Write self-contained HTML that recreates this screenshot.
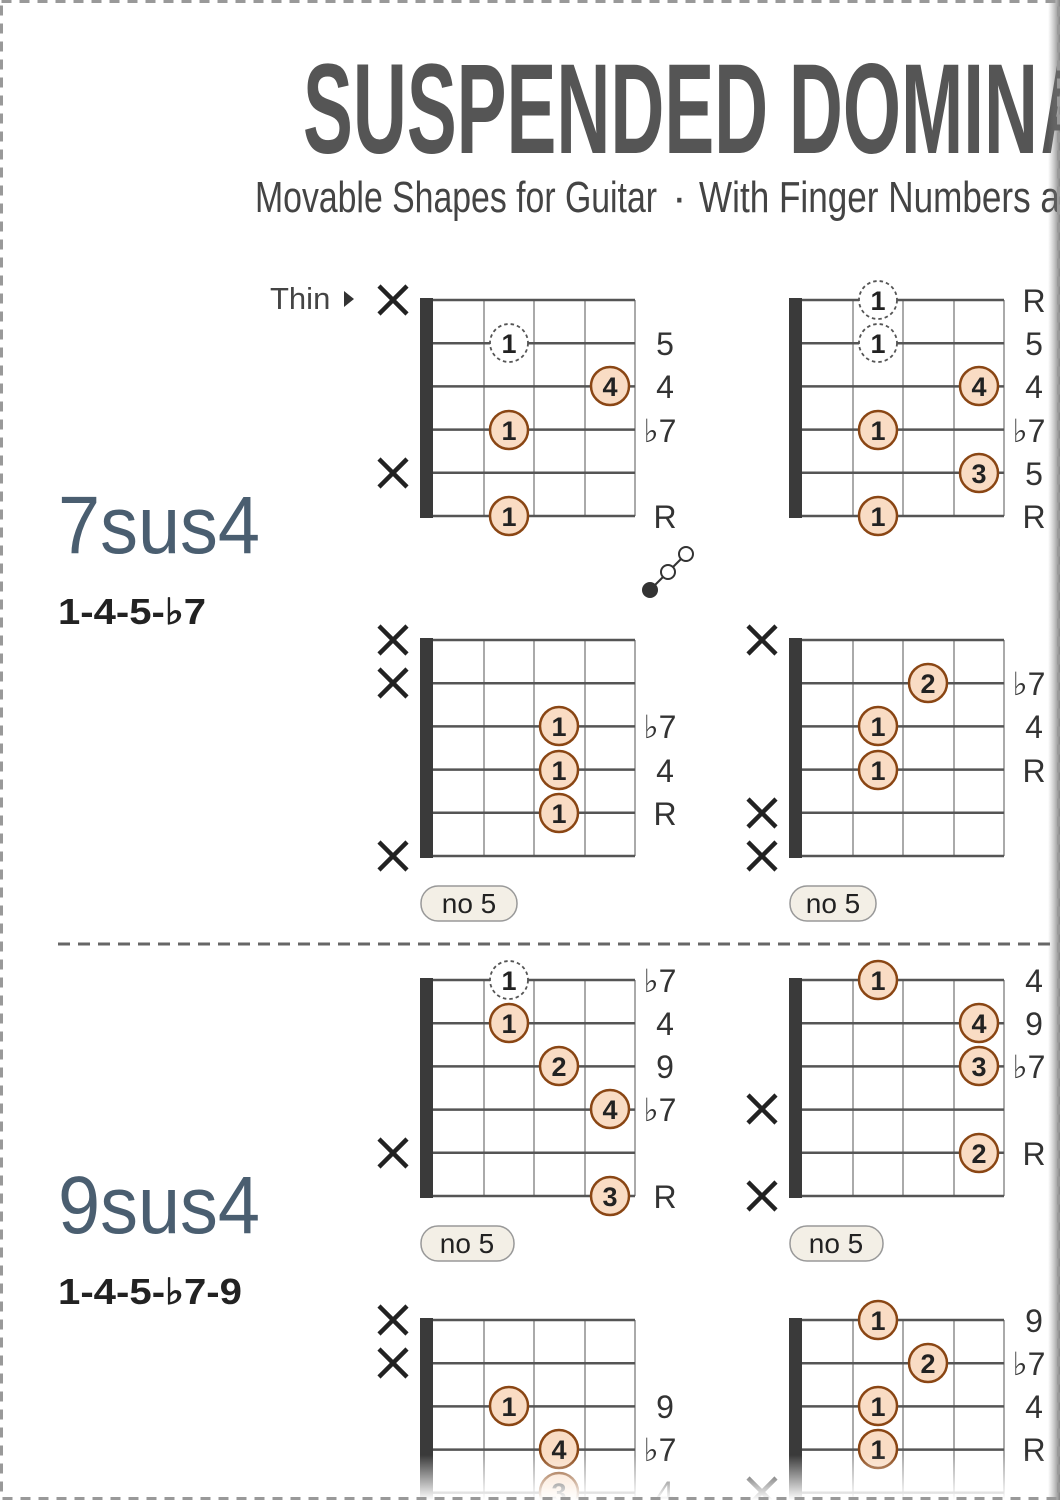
<!DOCTYPE html>
<html><head><meta charset="utf-8"><style>
html,body{margin:0;padding:0;background:#fff}
svg{display:block}
text{font-family:"Liberation Sans",sans-serif}
.lb{font-size:32px;fill:#333;text-anchor:middle}
.fn{font-size:27px;font-weight:bold;fill:#222;text-anchor:middle}
.x{stroke:#222;stroke-width:4.5;stroke-linecap:butt}
.dot{fill:#f9dcc4;stroke:#8a4614;stroke-width:2.5}
.dd{fill:#fff;stroke:#555;stroke-width:1.8;stroke-dasharray:3.5,3}
.str{stroke:#555;stroke-width:2.5}
.fr{stroke:#aaa;stroke-width:2}
</style></head><body>
<svg width="1060" height="1500" viewBox="0 0 1060 1500" xmlns="http://www.w3.org/2000/svg">
<defs>
<symbol id="grid" overflow="visible">
<rect x="0" y="-2" width="13" height="220" fill="#3a3a3a"/>
<line class="fr" x1="64" y1="0" x2="64" y2="216"/>
<line class="fr" x1="114" y1="0" x2="114" y2="216"/>
<line class="fr" x1="165" y1="0" x2="165" y2="216"/>
<line class="fr" x1="215" y1="0" x2="215" y2="216"/>
<line class="str" x1="13" y1="0" x2="215" y2="0"/>
<line class="str" x1="13" y1="43.2" x2="215" y2="43.2"/>
<line class="str" x1="13" y1="86.4" x2="215" y2="86.4"/>
<line class="str" x1="13" y1="129.6" x2="215" y2="129.6"/>
<line class="str" x1="13" y1="172.8" x2="215" y2="172.8"/>
<line class="str" x1="13" y1="216" x2="215" y2="216"/>
</symbol>
<symbol id="X" overflow="visible"><path class="x" d="M-14,-14L14,14M14,-14L-14,14"/></symbol>
<linearGradient id="fade" x1="0" y1="0" x2="0" y2="1"><stop offset="0" stop-color="#fff" stop-opacity="0"/><stop offset="1" stop-color="#fff" stop-opacity="1"/></linearGradient>
<linearGradient id="rs" x1="0" y1="0" x2="1" y2="0"><stop offset="0" stop-color="#888" stop-opacity="0"/><stop offset="1" stop-color="#666" stop-opacity="0.8"/></linearGradient>
</defs>

<!-- title -->
<text x="303" y="153" font-size="128" font-weight="bold" fill="#555" textLength="735" lengthAdjust="spacingAndGlyphs">SUSPENDED DOMIN</text>
<text x="1041" y="153" font-size="128" font-weight="bold" fill="#555" textLength="120" lengthAdjust="spacingAndGlyphs">ANT</text>
<text x="255" y="212" font-size="44" fill="#444" textLength="402" lengthAdjust="spacingAndGlyphs">Movable Shapes for Guitar</text>
<text x="672" y="212" font-size="44" fill="#444">·</text>
<text x="699" y="212" font-size="44" fill="#444" textLength="400" lengthAdjust="spacingAndGlyphs">With Finger Numbers and</text>

<text x="270" y="309" font-size="31" fill="#444">Thin</text>
<path d="M344,291L354,299L344,307Z" fill="#333"/>

<text x="58" y="553" font-size="82" fill="#4a5e70" textLength="202" lengthAdjust="spacingAndGlyphs">7sus4</text>
<text x="58" y="624" font-size="36" fill="#222" font-weight="bold" textLength="148" lengthAdjust="spacingAndGlyphs">1-4-5-♭7</text>
<text x="58" y="1233" font-size="82" fill="#4a5e70" textLength="202" lengthAdjust="spacingAndGlyphs">9sus4</text>
<text x="58" y="1304" font-size="36" fill="#222" font-weight="bold" textLength="184" lengthAdjust="spacingAndGlyphs">1-4-5-♭7-9</text>

<line x1="58" y1="944" x2="1060" y2="944" stroke="#666" stroke-width="3" stroke-dasharray="12,8"/>

<!-- link icon -->
<line x1="650" y1="590" x2="686" y2="554" stroke="#333" stroke-width="2"/>
<circle cx="650" cy="590" r="8" fill="#333"/>
<circle cx="668" cy="572" r="7" fill="#fff" stroke="#333" stroke-width="2"/>
<circle cx="686" cy="554" r="7" fill="#fff" stroke="#333" stroke-width="2"/>

<!-- Chord 1 -->
<use href="#grid" x="420" y="300"/>
<use href="#X" x="393" y="300"/><use href="#X" x="393" y="473"/>
<circle class="dd" cx="509" cy="343" r="19"/><text class="fn" x="509" y="353">1</text>
<circle class="dot" cx="610" cy="386" r="19"/><text class="fn" x="610" y="396">4</text>
<circle class="dot" cx="509" cy="430" r="19"/><text class="fn" x="509" y="440">1</text>
<circle class="dot" cx="509" cy="516" r="19"/><text class="fn" x="509" y="526">1</text>
<text class="lb" x="665" y="355">5</text><text class="lb" x="665" y="398">4</text><text class="lb" x="660" y="442">♭7</text><text class="lb" x="665" y="528">R</text>

<!-- Chord 2 -->
<use href="#grid" x="789" y="300"/>
<circle class="dd" cx="878" cy="300" r="19"/><text class="fn" x="878" y="310">1</text>
<circle class="dd" cx="878" cy="343" r="19"/><text class="fn" x="878" y="353">1</text>
<circle class="dot" cx="979" cy="386" r="19"/><text class="fn" x="979" y="396">4</text>
<circle class="dot" cx="878" cy="430" r="19"/><text class="fn" x="878" y="440">1</text>
<circle class="dot" cx="979" cy="473" r="19"/><text class="fn" x="979" y="483">3</text>
<circle class="dot" cx="878" cy="516" r="19"/><text class="fn" x="878" y="526">1</text>
<text class="lb" x="1034" y="312">R</text><text class="lb" x="1034" y="355">5</text><text class="lb" x="1034" y="398">4</text><text class="lb" x="1029" y="442">♭7</text><text class="lb" x="1034" y="485">5</text><text class="lb" x="1034" y="528">R</text>

<!-- Chord 3 -->
<use href="#grid" x="420" y="640"/>
<use href="#X" x="393" y="640"/><use href="#X" x="393" y="683"/><use href="#X" x="393" y="856"/>
<circle class="dot" cx="559" cy="726" r="19"/><text class="fn" x="559" y="736">1</text>
<circle class="dot" cx="559" cy="770" r="19"/><text class="fn" x="559" y="780">1</text>
<circle class="dot" cx="559" cy="813" r="19"/><text class="fn" x="559" y="823">1</text>
<text class="lb" x="660" y="738">♭7</text><text class="lb" x="665" y="782">4</text><text class="lb" x="665" y="825">R</text>
<rect x="421" y="886" width="96" height="35" rx="17" fill="#f3efe6" stroke="#999" stroke-width="1.5"/><text x="469" y="913" font-size="28" fill="#222" text-anchor="middle">no 5</text>

<!-- Chord 4 -->
<use href="#grid" x="789" y="640"/>
<use href="#X" x="762" y="640"/><use href="#X" x="762" y="813"/><use href="#X" x="762" y="856"/>
<circle class="dot" cx="928" cy="683" r="19"/><text class="fn" x="928" y="693">2</text>
<circle class="dot" cx="878" cy="726" r="19"/><text class="fn" x="878" y="736">1</text>
<circle class="dot" cx="878" cy="770" r="19"/><text class="fn" x="878" y="780">1</text>
<text class="lb" x="1029" y="695">♭7</text><text class="lb" x="1034" y="738">4</text><text class="lb" x="1034" y="782">R</text>
<rect x="790" y="886" width="86" height="35" rx="17" fill="#f3efe6" stroke="#999" stroke-width="1.5"/><text x="833" y="913" font-size="28" fill="#222" text-anchor="middle">no 5</text>

<!-- Chord 5 -->
<use href="#grid" x="420" y="980"/>
<use href="#X" x="393" y="1153"/>
<circle class="dd" cx="509" cy="980" r="19"/><text class="fn" x="509" y="990">1</text>
<circle class="dot" cx="509" cy="1023" r="19"/><text class="fn" x="509" y="1033">1</text>
<circle class="dot" cx="559" cy="1066" r="19"/><text class="fn" x="559" y="1076">2</text>
<circle class="dot" cx="610" cy="1109" r="19"/><text class="fn" x="610" y="1119">4</text>
<circle class="dot" cx="610" cy="1196" r="19"/><text class="fn" x="610" y="1206">3</text>
<text class="lb" x="660" y="992">♭7</text><text class="lb" x="665" y="1035">4</text><text class="lb" x="665" y="1078">9</text><text class="lb" x="660" y="1121">♭7</text><text class="lb" x="665" y="1208">R</text>
<rect x="421" y="1226" width="93" height="35" rx="17" fill="#f3efe6" stroke="#999" stroke-width="1.5"/><text x="467" y="1253" font-size="28" fill="#222" text-anchor="middle">no 5</text>

<!-- Chord 6 -->
<use href="#grid" x="789" y="980"/>
<use href="#X" x="762" y="1109"/><use href="#X" x="762" y="1196"/>
<circle class="dot" cx="878" cy="980" r="19"/><text class="fn" x="878" y="990">1</text>
<circle class="dot" cx="979" cy="1023" r="19"/><text class="fn" x="979" y="1033">4</text>
<circle class="dot" cx="979" cy="1066" r="19"/><text class="fn" x="979" y="1076">3</text>
<circle class="dot" cx="979" cy="1153" r="19"/><text class="fn" x="979" y="1163">2</text>
<text class="lb" x="1034" y="992">4</text><text class="lb" x="1034" y="1035">9</text><text class="lb" x="1029" y="1078">♭7</text><text class="lb" x="1034" y="1165">R</text>
<rect x="790" y="1226" width="93" height="35" rx="17" fill="#f3efe6" stroke="#999" stroke-width="1.5"/><text x="836" y="1253" font-size="28" fill="#222" text-anchor="middle">no 5</text>

<!-- Chord 7 -->
<use href="#grid" x="420" y="1320"/>
<use href="#X" x="393" y="1320"/><use href="#X" x="393" y="1363"/>
<circle class="dot" cx="509" cy="1406" r="19"/><text class="fn" x="509" y="1416">1</text>
<circle class="dot" cx="559" cy="1449" r="19"/><text class="fn" x="559" y="1459">4</text>
<circle class="dot" cx="559" cy="1492" r="19"/><text class="fn" x="559" y="1502">3</text>
<text class="lb" x="665" y="1418">9</text><text class="lb" x="660" y="1461">♭7</text><text class="lb" x="665" y="1504">4</text>

<!-- Chord 8 -->
<use href="#grid" x="789" y="1320"/>
<use href="#X" x="762" y="1492"/>
<circle class="dot" cx="878" cy="1320" r="19"/><text class="fn" x="878" y="1330">1</text>
<circle class="dot" cx="928" cy="1363" r="19"/><text class="fn" x="928" y="1373">2</text>
<circle class="dot" cx="878" cy="1406" r="19"/><text class="fn" x="878" y="1416">1</text>
<circle class="dot" cx="878" cy="1449" r="19"/><text class="fn" x="878" y="1459">1</text>
<text class="lb" x="1034" y="1332">9</text><text class="lb" x="1029" y="1375">♭7</text><text class="lb" x="1034" y="1418">4</text><text class="lb" x="1034" y="1461">R</text>

<!-- edge effects -->
<rect x="0" y="1455" width="1060" height="45" fill="url(#fade)"/>
<rect x="1048" y="0" width="12" height="1500" fill="url(#rs)"/>
<rect x="1.5" y="1.5" width="1057" height="1497" fill="none" stroke="#999" stroke-width="3" stroke-dasharray="10,8"/>
</svg>
</body></html>
